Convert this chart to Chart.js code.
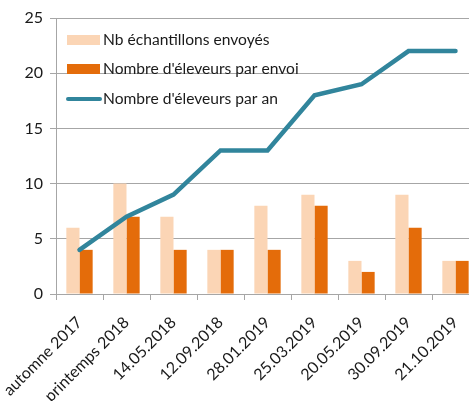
<!DOCTYPE html>
<html>
<head>
<meta charset="utf-8">
<script src="https://cdn.jsdelivr.net/npm/chart.js@4/dist/chart.umd.min.js"></script>
<style>
  html, body { margin: 0; padding: 0; background: #fff; overflow: hidden; }
  #wrap { position: relative; width: 479px; height: 401px; }
</style>
</head>
<body>
<div id="wrap"><canvas id="chart"></canvas></div>
<script>
const categories = ['automne 2017', 'printemps 2018', '14.05.2018', '12.09.2018', '28.01.2019',
   '25.03.2019', '20.05.2019', '30.09.2019', '21.10.2019'];
const echantillons = [6, 10, 7, 4, 8, 9, 3, 9, 3];
const eleveursParEnvoi = [4, 7, 4, 4, 4, 8, 2, 6, 3];
const eleveursParAn = [4, 7, 9, 13, 13, 18, 19, 22, 22];
const yTicks = [0, 5, 10, 15, 20, 25];

const FONT = 'Lato, "Open Sans", sans-serif';
const GRID = '#a6a6a6';

// legend drawn inside the plot, top left
const insideLegend = {
   id: 'insideLegend',
   afterDraw(chart) {
      const ctx = chart.ctx;
      const rows = [
         { ds: chart.data.datasets[1], y: 40 },
         { ds: chart.data.datasets[2], y: 69 },
         { ds: chart.data.datasets[0], y: 99 },
      ];
      ctx.save();
      ctx.font = '15.6px ' + FONT;
      ctx.textBaseline = 'middle';
      rows.forEach(r => {
         if (r.ds.type === 'line') {
            ctx.strokeStyle = r.ds.borderColor;
            ctx.lineWidth = 4;
            ctx.lineCap = 'round';
            ctx.beginPath();
            ctx.moveTo(68, r.y);
            ctx.lineTo(100, r.y);
            ctx.stroke();
         } else {
            ctx.fillStyle = r.ds.backgroundColor;
            ctx.fillRect(67, r.y - 5, 33, 10);
         }
         ctx.fillStyle = '#1a1a1a';
         ctx.fillText(r.ds.label, 103, r.y);
      });
      ctx.restore();
   }
};

new Chart(document.getElementById('chart'), {
   data: {
      labels: categories,
      datasets: [
         {
            type: 'line',
            label: "Nombre d'éleveurs par an",
            data: eleveursParAn,
            borderColor: '#31859c',
            borderWidth: 4.5,
            pointRadius: 0,
            tension: 0,
            borderCapStyle: 'round',
            order: 0,
         },
         {
            type: 'bar',
            label: 'Nb échantillons envoyés',
            data: echantillons,
            backgroundColor: '#fbd5b5',
            barPercentage: 1,
            categoryPercentage: 0.56,
            order: 1,
         },
         {
            type: 'bar',
            label: "Nombre d'éleveurs par envoi",
            data: eleveursParEnvoi,
            backgroundColor: '#e46c0a',
            barPercentage: 1,
            categoryPercentage: 0.56,
            order: 1,
         },
      ]
   },
   options: {
      responsive: true,
      maintainAspectRatio: false,
      animation: false,
      layout: { padding: { top: 18, right: 0, left: 0, bottom: 0 } },
      plugins: {
         legend: { display: false },
         tooltip: { enabled: false },
      },
      scales: {
         x: {
            offset: true,
            grid: { offset: true, drawOnChartArea: false, color: GRID, tickLength: 6 },
            border: { color: GRID, width: 1 },
            ticks: {
               color: '#1a1a1a',
               font: { family: FONT, size: 16 },
               maxRotation: 45,
               minRotation: 45,
               autoSkip: false,
               padding: 13,
            },
            afterFit(scale) {
               scale.height = 107;
               scale.paddingLeft = 0;
               scale.paddingRight = 0;
            },
         },
         y: {
            min: 0,
            max: 25,
            afterBuildTicks(scale) { scale.ticks = yTicks.map(v => ({ value: v })); },
            grid: { color: GRID, tickLength: 6 },
            border: { color: GRID, width: 1 },
            ticks: {
               color: '#1a1a1a',
               font: { family: FONT, size: 16 },
               padding: 7,
            },
            afterFit(scale) { scale.width = 56; },
         },
      }
   },
   plugins: [insideLegend]
});
</script>
</body>
</html>
